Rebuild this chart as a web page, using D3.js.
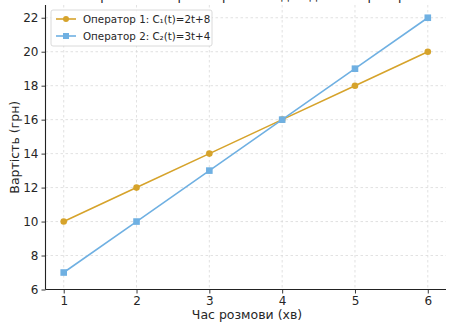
<!DOCTYPE html>
<html><head><meta charset="utf-8">
<script src="https://cdn.jsdelivr.net/npm/d3@7"></script>
<style>body{margin:0;background:#fff;}svg{display:block;font-family:"DejaVu Sans",sans-serif;}</style>
</head><body><svg id="c" width="457" height="326"></svg>
<script>
const minutes = [1, 2, 3, 4, 5, 6];
const op1 = [10, 12, 14, 16, 18, 20];
const op2 = [7, 10, 13, 16, 19, 22];
const yTicks = [6, 8, 10, 12, 14, 16, 18, 20, 22];
const xTicks = [1, 2, 3, 4, 5, 6];
const seriesNames = ["Оператор 1: C₁(t)=2t+8", "Оператор 2: C₂(t)=3t+4"];
const titleText = "Порівняння вартості розмови для двох операторів";

const svg = d3.select("#c");
const L = 45.5, R = 446, T = 5, B = 289.5;
const x = d3.scaleLinear().domain([0.75, 6.25]).range([L, R]);
const y = d3.scaleLinear().domain([6, 22.75]).range([B, T]);

// grid
const grid = svg.append("g").attr("stroke", "#d9d9d9").attr("stroke-width", 0.8).attr("stroke-dasharray", "2.5,2.5");
grid.selectAll(".gx").data(xTicks).join("line").attr("x1", d => x(d)).attr("x2", d => x(d)).attr("y1", T).attr("y2", B);
grid.selectAll(".gy").data(yTicks).join("line").attr("x1", L).attr("x2", R).attr("y1", d => y(d)).attr("y2", d => y(d));

// title (mostly clipped at top, as in the reference)
svg.append("text").attr("x", 250).attr("y", -0.5).attr("text-anchor", "middle").attr("font-size", 12.5).attr("fill", "#222").text(titleText);

// axes
const xa = svg.append("g").attr("transform", `translate(0,${B})`).call(d3.axisBottom(x).tickValues(xTicks).tickSize(4).tickPadding(3).tickFormat(d3.format("d")));
const ya = svg.append("g").attr("transform", `translate(${L},0)`).call(d3.axisLeft(y).tickValues(yTicks).tickSize(4).tickPadding(3).tickFormat(d3.format("d")));
[xa, ya].forEach(a => {
  a.select(".domain").attr("stroke", "#222").attr("stroke-width", 1.1);
  a.selectAll(".tick line").attr("stroke", "#222").attr("stroke-width", 0.9);
  a.selectAll(".tick text").attr("font-size", 12).attr("fill", "#262626").attr("font-family", "DejaVu Sans");
});
xa.select(".domain").attr("d", `M${L},0H${R}`);
ya.select(".domain").attr("d", `M0,${B}V${T}`);

svg.append("text").attr("x", 247).attr("y", 319).attr("text-anchor", "middle").attr("font-size", 12.5).attr("fill", "#262626").text("Час розмови (хв)");
svg.append("text").attr("transform", `translate(19,${(T + B) / 2}) rotate(-90)`).attr("text-anchor", "middle").attr("font-size", 12.5).attr("fill", "#262626").text("Вартість (грн)");

const colors = ["#D6A32B", "#6FB0E2"];
const data = [op1, op2];
const line = d3.line().x((d, i) => x(minutes[i])).y(d => y(d));
data.forEach((vals, s) => {
  svg.append("path").datum(vals).attr("d", line).attr("fill", "none").attr("stroke", colors[s]).attr("stroke-width", 1.6);
  const g = svg.append("g").attr("fill", colors[s]);
  if (s === 0) {
    g.selectAll("circle").data(vals).join("circle").attr("cx", (d, i) => x(minutes[i])).attr("cy", d => y(d)).attr("r", 3.3);
  } else {
    g.selectAll("rect").data(vals).join("rect").attr("x", (d, i) => x(minutes[i]) - 3.3).attr("y", d => y(d) - 3.3).attr("width", 6.6).attr("height", 6.6);
  }
});

// legend
const lg = svg.append("g").attr("transform", "translate(51,10)");
lg.append("rect").attr("width", 161).attr("height", 36).attr("rx", 2).attr("fill", "#fff").attr("fill-opacity", 0.85).attr("stroke", "#d0d0d0").attr("stroke-width", 0.8);
seriesNames.forEach((name, s) => {
  const yy = 9 + s * 17;
  lg.append("line").attr("x1", 5).attr("x2", 25).attr("y1", yy).attr("y2", yy).attr("stroke", colors[s]).attr("stroke-width", 1.6);
  if (s === 0) lg.append("circle").attr("cx", 15).attr("cy", yy).attr("r", 3).attr("fill", colors[s]);
  else lg.append("rect").attr("x", 12).attr("y", yy - 3).attr("width", 6).attr("height", 6).attr("fill", colors[s]);
  lg.append("text").attr("x", 32).attr("y", yy + 3.8).attr("font-size", 10.3).attr("fill", "#262626").text(name);
});
</script></body></html>
